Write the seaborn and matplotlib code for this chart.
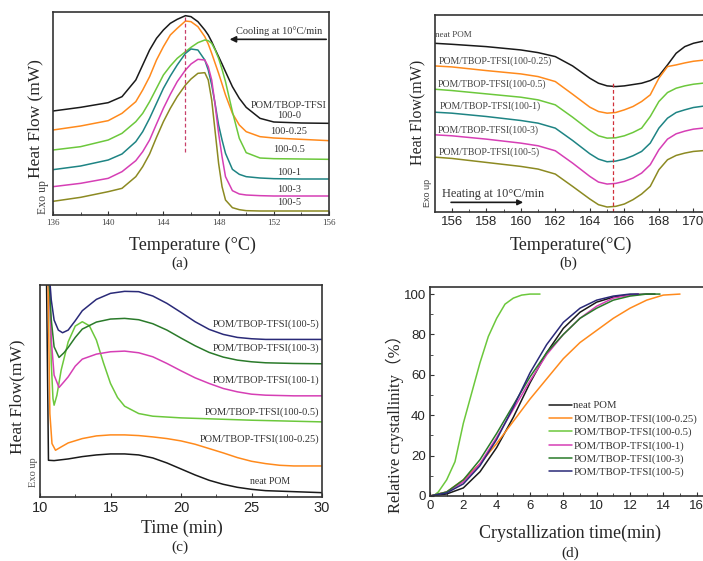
import numpy as np
import pandas as pd
import matplotlib
matplotlib.use('Agg')
import matplotlib.pyplot as plt
from matplotlib.ticker import MultipleLocator
import seaborn as sns

# ---- (a) cooling scans, heat flow in arbitrary units ----
a_temp = [136, 138, 140, 141, 142, 142.5, 143, 143.5, 144, 144.5, 145, 145.6, 146,
          146.5, 147, 147.25, 147.5, 147.75, 148, 148.25, 148.5, 149, 149.5, 150,
          151, 152, 154, 156]
a_100_0 = [367, 378, 392, 410, 460, 505, 550, 585, 610, 630, 642, 653, 650,
           635, 610, 595, 575, 552, 530, 508, 485, 440, 405, 378,
           345, 334, 331, 330]
a_100_025 = [310, 322, 338, 360, 395, 430, 470, 520, 560, 595, 615, 637, 635,
             620, 590, 568, 540, 510, 480, 448, 415, 360, 325, 305,
             290, 286, 282, 278]
a_100_05 = [250, 260, 280, 300, 335, 360, 395, 435, 475, 502, 525, 545, 558,
            572, 580, 578, 570, 550, 525, 492, 455, 365, 285, 242,
            226, 224, 223, 222]
a_100_1 = [191, 202, 220, 238, 275, 305, 345, 390, 435, 472, 505, 540, 553,
           550, 520, 490, 445, 388, 325, 280, 240, 192, 177, 170,
           166, 164, 163, 163]
a_100_3 = [140, 150, 165, 185, 218, 245, 280, 328, 375, 417, 455, 490, 508,
           522, 520, 500, 460, 385, 300, 230, 170, 128, 118, 115,
           113, 112, 112, 112]
a_100_5 = [96, 108, 125, 135, 170, 200, 238, 288, 335, 375, 410, 445, 463,
           480, 482, 460, 400, 305, 210, 140, 100, 77, 71, 68,
           67, 67, 67, 67]
a_labels = ['100-0.25', '100-0.5', '100-1', '100-3', '100-5']
a_label_y = [305, 250, 183, 133, 92]

# ---- (b) heating scans ----
b_temp = [155, 156, 158, 160, 161, 162, 163, 164, 164.5, 165, 165.5, 166, 166.5,
          167, 167.5, 168, 168.5, 169, 169.5, 170, 170.7]
b_neat = [570, 567, 560, 550, 542, 530, 502, 465, 450, 442, 440, 442, 446,
          450, 458, 472, 505, 540, 560, 570, 578]
b_025 = [502, 499, 488, 478, 470, 455, 417, 378, 365, 360, 362, 370, 380,
         395, 415, 465, 500, 505, 511, 516, 520]
b_05 = [432, 428, 418, 408, 400, 385, 348, 308, 292, 285, 286, 292, 302,
        315, 350, 395, 422, 435, 442, 447, 451]
b_1 = [363, 360, 350, 338, 330, 315, 278, 238, 222, 214, 216, 222, 232,
       245, 270, 315, 345, 362, 370, 377, 382]
b_3 = [295, 292, 282, 270, 262, 247, 210, 170, 153, 147, 149, 155, 165,
       180, 205, 250, 282, 298, 306, 312, 316]
b_5 = [228, 224, 212, 200, 192, 177, 140, 102, 85, 78, 80, 87, 100,
       117, 140, 190, 220, 233, 240, 245, 248]
b_labels = ['neat POM', 'POM/TBOP-TFSI(100-0.25)', 'POM/TBOP-TFSI(100-0.5)',
            'POM/TBOP-TFSI(100-1)', 'POM/TBOP-TFSI(100-3)', 'POM/TBOP-TFSI(100-5)']
b_label_x = [155.05, 155.23, 155.2, 155.3, 155.2, 155.23]
b_label_y = [595, 517, 447, 380, 310, 243]

# ---- (c) isothermal crystallization ----
c_neat_t = [10.45, 10.6, 11, 12, 13, 14, 15, 16, 17, 18, 19, 20, 21, 22, 23, 24,
            25, 26, 28, 30]
c_neat = [750, 160, 159, 164, 171, 176, 179, 179, 176, 167, 152, 134, 116, 100,
          88, 79, 73, 69, 66, 63]
c_025_t = [10.55, 10.7, 10.85, 11.1, 11.5, 12, 13, 14, 15, 16, 17, 18, 19, 20,
           21, 22, 23, 24, 25, 26, 27, 28, 30]
c_025 = [750, 300, 210, 190, 200, 212, 225, 233, 236, 236, 234, 230, 225, 218,
         208, 195, 182, 168, 157, 150, 145, 143, 143]
c_05_t = [10.65, 10.8, 10.92, 11.0, 11.2, 11.5, 12, 12.5, 13, 13.5, 14, 14.5, 15,
          15.5, 16, 17, 18, 20, 25, 30]
c_05 = [750, 450, 345, 325, 355, 430, 515, 562, 575, 563, 520, 452, 390, 348,
        322, 300, 292, 287, 280, 275]
c_1_t = [10.62, 10.8, 11.0, 11.35, 11.7, 12, 12.5, 13, 14, 15, 16, 17, 18, 19,
         20, 21, 22, 23, 24, 25, 26, 28, 30]
c_1 = [750, 520, 415, 378, 395, 410, 442, 463, 478, 485, 487, 482, 470, 450,
       428, 407, 390, 375, 365, 358, 355, 353, 353]
c_3_t = [10.58, 10.8, 11.0, 11.35, 11.7, 12, 12.5, 13, 14, 15, 16, 17, 18, 19,
         20, 21, 22, 23, 24, 25, 26, 28, 30]
c_3 = [750, 580, 500, 468, 482, 498, 528, 553, 574, 583, 585, 581, 569, 550,
       526, 503, 483, 469, 460, 455, 452, 450, 449]
c_5_t = [10.6, 10.8, 11.0, 11.3, 11.6, 12, 12.5, 13, 14, 15, 16, 17, 18, 19,
         20, 21, 22, 23, 24, 25, 26, 28, 30]
c_5 = [750, 640, 580, 550, 542, 550, 578, 608, 642, 660, 666, 665, 652, 630,
       603, 575, 552, 537, 528, 524, 522, 522, 522]
c_labels = ['POM/TBOP-TFSI(100-5)', 'POM/TBOP-TFSI(100-3)', 'POM/TBOP-TFSI(100-1)',
            'POM/TBOP-TFSI(100-0.5)', 'POM/TBOP-TFSI(100-0.25)']
c_label_y = [567, 495, 400, 303, 222]

# ---- (d) relative crystallinity ----
d_neat_t = [0, 1, 2, 3, 4, 5, 6, 7, 8, 9, 10, 11, 12, 13, 13.5]
d_neat = [0, 1, 4, 12, 24, 39, 56, 71, 83, 91, 96, 98.5, 99.7, 100, 100]
d_025_t = [0, 1, 2, 3, 4, 5, 6, 7, 8, 9, 10, 11, 12, 13, 14, 15]
d_025 = [0, 2, 8, 16, 26, 37, 48, 58, 68, 76, 82, 88, 93, 97, 99.5, 100]
d_05_t = [0.2, 0.5, 1, 1.5, 2, 2.5, 3, 3.5, 4, 4.5, 5, 5.5, 6, 6.6]
d_05 = [0, 2, 8, 17, 36, 51, 66, 79, 88, 95, 98, 99.5, 100, 100]
d_1_t = [0, 1, 2, 3, 4, 5, 6, 7, 8, 9, 10, 11, 12, 12.5]
d_1 = [0, 2, 7, 16, 29, 43, 57, 70, 80, 88, 94, 98, 99.5, 100]
d_3_t = [0, 1, 2, 3, 4, 5, 6, 7, 8, 9, 10, 11, 12, 13, 13.8]
d_3 = [0, 2, 8, 18, 31, 45, 59, 71, 80, 88, 93, 97, 99, 100, 100]
d_5_t = [0, 1, 2, 3, 4, 5, 6, 7, 8, 9, 10, 11, 12, 12.5]
d_5 = [0, 1.5, 6, 15, 28, 44, 61, 75, 86, 93, 97, 99, 100, 100]
d_labels = ['neat POM', 'POM/TBOP-TFSI(100-0.25)', 'POM/TBOP-TFSI(100-0.5)',
            'POM/TBOP-TFSI(100-1)', 'POM/TBOP-TFSI(100-3)', 'POM/TBOP-TFSI(100-5)']

# colours
BLACK = '#1a1a1a'
ORANGE = '#ff8a1c'
LGREEN = '#6cc83c'
TEAL = '#1e8484'
MAGENTA = '#d63fb5'
OLIVE = '#8c8a22'
DGREEN = '#2a7a2a'
NAVY = '#2a2a78'

sns.set_style('ticks', {'xtick.direction': 'in', 'ytick.direction': 'in'})
plt.rcParams['font.family'] = ['Liberation Serif', 'DejaVu Serif']
plt.rcParams['axes.linewidth'] = 1.2
plt.rcParams['axes.edgecolor'] = '#333333'

W, H = 703, 561
fig = plt.figure(figsize=(W / 100, H / 100), dpi=100)


def box(l, t, r, b):
    return [l / W, 1 - b / H, (r - l) / W, (b - t) / H]


def ftext(x, y, s, **kw):
    fig.text(x / W, 1 - y / H, s, ha='center', va='center', **kw)


LW = 1.1
SANS = ['Liberation Sans', 'DejaVu Sans']

# ---------------- (a) ----------------
ax = fig.add_axes(box(53, 12, 329, 215))
for ys, col in zip([a_100_0, a_100_025, a_100_05, a_100_1, a_100_3, a_100_5],
                   [BLACK, ORANGE, LGREEN, TEAL, MAGENTA, OLIVE]):
    sns.lineplot(x=a_temp, y=ys, ax=ax, color=col, lw=LW)
ax.plot([145.6, 145.6], [245, 655], color='#c8406a', lw=0.9, ls=(0, (3, 2)))
ax.set_xlim(136, 156)
ax.set_ylim(55, 664)
ax.xaxis.set_major_locator(MultipleLocator(4))
ax.xaxis.set_minor_locator(MultipleLocator(2))
ax.set_yticks([])
ax.tick_params(axis='x', which='major', length=3, labelsize=6.5, pad=3,
               labelcolor='#444444', color='#333333')
ax.tick_params(axis='x', which='minor', length=2, color='#333333')
ax.text(153.1, 382, 'POM/TBOP-TFSI', ha='center', va='center', fontsize=7.5, color='#333333')
ax.text(153.1, 352, '100-0', ha='center', va='center', fontsize=7.5, color='#333333')
for lab, y in zip(a_labels, a_label_y):
    ax.text(153.1, y, lab, ha='center', va='center', fontsize=7.5, color='#333333')
ax.text(152.4, 607, 'Cooling at 10°C/min', ha='center', va='center', fontsize=7.5, color='#333333')
ax.annotate('', xy=(148.6, 582), xytext=(156, 582),
            arrowprops=dict(arrowstyle='-|>', color=BLACK, lw=1.2, mutation_scale=9))
ftext(35, 119, 'Heat Flow (mW)', rotation=90, fontsize=12.5)
ftext(43, 197, 'Exo up', rotation=90, fontsize=8.5, color='#444444')
ftext(192, 245, 'Temperature (°C)', fontsize=13)
ftext(180, 263, '(a)', fontsize=11)

# ---------------- (b) ----------------
ax = fig.add_axes(box(435, 15, 706, 212))
for ys, col in zip([b_neat, b_025, b_05, b_1, b_3, b_5],
                   [BLACK, ORANGE, LGREEN, TEAL, MAGENTA, OLIVE]):
    sns.lineplot(x=b_temp, y=ys, ax=ax, color=col, lw=LW)
ax.plot([165.36, 165.36], [63, 455], color='#d0303a', lw=0.9, ls=(0, (3, 2)))
ax.set_xlim(155.03, 170.73)
ax.set_ylim(63, 655)
ax.xaxis.set_major_locator(MultipleLocator(2))
ax.xaxis.set_minor_locator(MultipleLocator(1))
ax.set_yticks([])
ax.tick_params(axis='x', which='major', length=3, labelsize=9.5, pad=3, color='#333333')
ax.tick_params(axis='x', which='minor', length=2, color='#333333')
for lab in ax.get_xticklabels():
    lab.set_family(SANS)
for lab, x, y in zip(b_labels, b_label_x, b_label_y):
    ax.text(x, y, lab, ha='left', va='center', fontsize=7 if lab != 'neat POM' else 6.5,
            color='#444444')
ax.text(155.42, 117, 'Heating at 10°C/min', ha='left', va='center', fontsize=8.8, color='#333333')
ax.annotate('', xy=(160.3, 92), xytext=(155.8, 92),
            arrowprops=dict(arrowstyle='-|>', color=BLACK, lw=1.2, mutation_scale=8))
ftext(417, 112, 'Heat Flow(mW)', rotation=90, fontsize=11.5)
ftext(427, 193, 'Exo up', rotation=90, fontsize=6.5, family=SANS, color='#444444')
ftext(571, 245, 'Temperature(°C)', fontsize=13)
ftext(568, 263, '(b)', fontsize=11)

# ---------------- (c) ----------------
ax = fig.add_axes(box(40, 285, 322, 497))
for xs, ys, col in zip([c_neat_t, c_025_t, c_05_t, c_1_t, c_3_t, c_5_t],
                       [c_neat, c_025, c_05, c_1, c_3, c_5],
                       [BLACK, ORANGE, LGREEN, MAGENTA, DGREEN, NAVY]):
    sns.lineplot(x=xs, y=ys, ax=ax, color=col, lw=LW)
ax.set_xlim(10, 30)
ax.set_ylim(50, 685)
ax.xaxis.set_major_locator(MultipleLocator(5))
ax.xaxis.set_minor_locator(MultipleLocator(2.5))
ax.set_yticks([])
ax.tick_params(axis='x', which='major', length=3, labelsize=10.5, pad=3, color='#333333')
ax.tick_params(axis='x', which='minor', length=2, color='#333333')
for lab in ax.get_xticklabels():
    lab.set_family(SANS)
for lab, y in zip(c_labels, c_label_y):
    ax.text(29.83, y, lab, ha='right', va='center', fontsize=7.5, color='#333333')
ax.text(26.33, 95, 'neat POM', ha='center', va='center', fontsize=7, color='#333333')
ftext(17, 397, 'Heat Flow(mW)', rotation=90, fontsize=12.5)
ftext(33, 472, 'Exo up', rotation=90, fontsize=7.5, color='#555555')
ftext(182, 528, 'Time (min)', fontsize=13)
ftext(180, 547, '(c)', fontsize=11)

# ---------------- (d) ----------------
ax = fig.add_axes(box(430, 287, 706, 496))
for xs, ys, col, lab in zip([d_neat_t, d_025_t, d_05_t, d_1_t, d_3_t, d_5_t],
                            [d_neat, d_025, d_05, d_1, d_3, d_5],
                            [BLACK, ORANGE, LGREEN, MAGENTA, DGREEN, NAVY], d_labels):
    sns.lineplot(x=xs, y=ys, ax=ax, color=col, lw=LW, label=lab)
ax.set_xlim(0, 16.56)
ax.set_ylim(0, 103.5)
ax.xaxis.set_major_locator(MultipleLocator(2))
ax.xaxis.set_minor_locator(MultipleLocator(1))
ax.yaxis.set_major_locator(MultipleLocator(20))
ax.yaxis.set_minor_locator(MultipleLocator(10))
ax.tick_params(which='major', length=3, labelsize=9.5, pad=3, color='#333333')
ax.tick_params(which='minor', length=2, color='#333333')
for lab in ax.get_xticklabels() + ax.get_yticklabels():
    lab.set_family(SANS)
leg = ax.legend(loc='upper left', bbox_to_anchor=(0.43, 0.455), frameon=False,
                fontsize=7.7, handlelength=2.2, handletextpad=0.1, labelspacing=0.34,
                borderpad=0, borderaxespad=0)
for t in leg.get_texts():
    t.set_color('#333333')
ftext(395, 420, 'Relative crystallinity（%）', rotation=90, fontsize=12,
      family=['Liberation Serif', 'Noto Sans CJK SC'])
ftext(570, 533, 'Crystallization time(min)', fontsize=13)
ftext(570, 553, '(d)', fontsize=11)

fig.savefig('out.png', dpi=100)
